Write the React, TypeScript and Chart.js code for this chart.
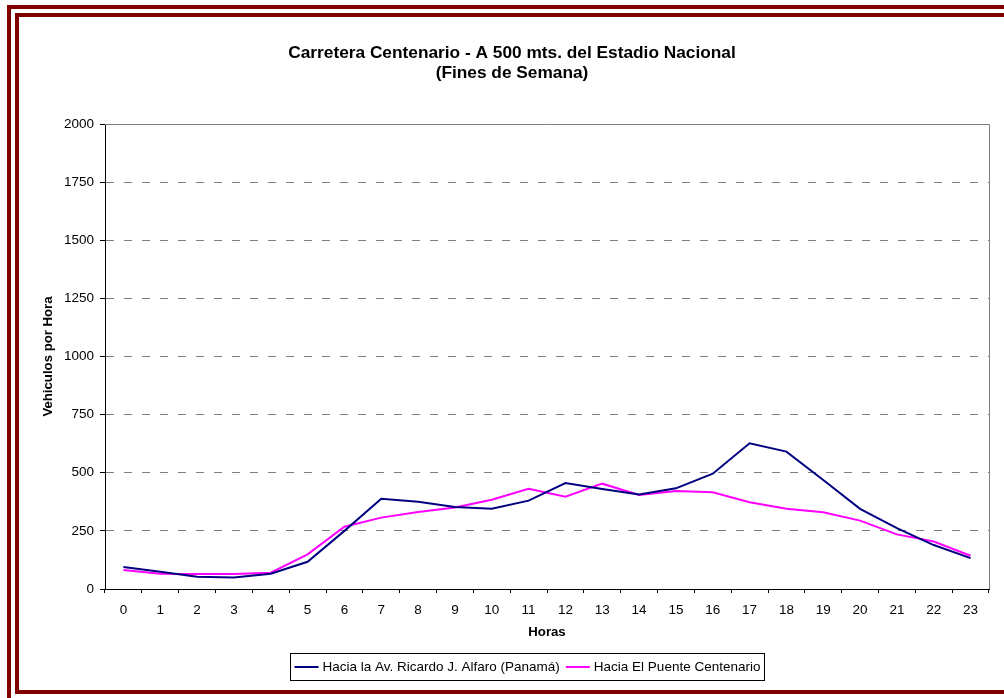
import React, { useEffect, useRef } from "react";
import { Chart, registerables } from "chart.js";

Chart.register(...registerables);

const FONT = '"Liberation Sans", Arial, Helvetica, sans-serif';

const TITLE_LINES = [
  "Carretera Centenario - A 500 mts. del Estadio Nacional",
  "(Fines de Semana)",
];
const X_TITLE = "Horas";
const Y_TITLE = "Vehiculos por Hora";

const hours = [
  "0", "1", "2", "3", "4", "5", "6", "7", "8", "9", "10", "11",
  "12", "13", "14", "15", "16", "17", "18", "19", "20", "21", "22", "23",
];

const seriesNames = [
  "Hacia la Av. Ricardo J. Alfaro (Panamá)",
  "Hacia El Puente Centenario",
];

const haciaAlfaro = [
  95, 74, 53, 50, 66, 117, 250, 388, 375, 353, 345, 380,
  456, 430, 406, 433, 496, 627, 591, 469, 345, 262, 189, 133,
];
const haciaPuente = [
  82, 66, 64, 64, 70, 149, 268, 307, 331, 351, 384, 431,
  397, 453, 404, 421, 416, 373, 345, 330, 294, 235, 204, 143,
];

const yMin = 0;
const yMax = 2000;
const yStep = 250;

const W = 1004;
const H = 698;

const TICK_SIZE = 13.5;
const AXIS_TITLE_SIZE = 13.2;
const HEADING_SIZE = 17.3;

// Two-line bold heading above the plot
const headingPlugin = {
  id: "heading",
  afterDraw(chart: any) {
    const ctx = chart.ctx;
    ctx.save();
    ctx.font = `bold ${HEADING_SIZE}px ${FONT}`;
    ctx.fillStyle = "#000";
    ctx.textAlign = "center";
    ctx.textBaseline = "alphabetic";
    TITLE_LINES.forEach((line, i) => ctx.fillText(line, 512, 57.5 + i * 20.7));
    ctx.restore();
  },
};

// Grey frame on the top and right sides of the plot area
const framePlugin = {
  id: "frame",
  beforeDatasetsDraw(chart: any) {
    const { ctx, chartArea } = chart;
    const { left, right, top, bottom } = chartArea;
    ctx.save();
    ctx.strokeStyle = "#808080";
    ctx.lineWidth = 1;
    ctx.setLineDash([]);
    ctx.beginPath();
    ctx.moveTo(left, Math.round(top) + 0.5);
    ctx.lineTo(Math.round(right) + 0.5, Math.round(top) + 0.5);
    ctx.lineTo(Math.round(right) + 0.5, bottom);
    ctx.stroke();
    ctx.restore();
  },
};

// Boxed legend below the axis title
const boxedLegendPlugin = {
  id: "boxedLegend",
  afterDraw(chart: any) {
    const ctx = chart.ctx;
    const sets = chart.data.datasets;
    const pad = 4;
    const sample = 24;
    const gap = 4;
    const between = 6;
    ctx.save();
    ctx.font = `${TICK_SIZE}px ${FONT}`;
    const widths = sets.map((d: any) => ctx.measureText(d.label).width);
    let total = pad * 2;
    widths.forEach((w: number, i: number) => {
      total += sample + gap + w + (i < widths.length - 1 ? between : 0);
    });
    const cx = 527;
    const top = 653.5;
    const h = 27;
    const left = Math.round(cx - total / 2) + 0.5;
    ctx.strokeStyle = "#000";
    ctx.lineWidth = 1;
    ctx.strokeRect(left, top, Math.round(total), h);
    const midY = top + h / 2;
    let x = left + pad;
    sets.forEach((d: any, i: number) => {
      ctx.strokeStyle = d.borderColor;
      ctx.lineWidth = 2;
      ctx.beginPath();
      ctx.moveTo(x, midY);
      ctx.lineTo(x + sample, midY);
      ctx.stroke();
      x += sample + gap;
      ctx.fillStyle = "#000";
      ctx.textAlign = "left";
      ctx.textBaseline = "middle";
      ctx.fillText(d.label, x, midY);
      x += widths[i] + between;
    });
    ctx.restore();
  },
};

export default function App() {
  const canvasRef = useRef<HTMLCanvasElement | null>(null);

  useEffect(() => {
    const canvas = canvasRef.current;
    if (!canvas) return;
    const chart = new Chart(canvas, {
      type: "line",
      data: {
        labels: hours,
        datasets: [
          {
            label: seriesNames[0],
            data: haciaAlfaro,
            borderColor: "#000080",
            backgroundColor: "#000080",
            borderWidth: 2,
            pointRadius: 0,
            tension: 0,
            fill: false,
          },
          {
            label: seriesNames[1],
            data: haciaPuente,
            borderColor: "#FF00FF",
            backgroundColor: "#FF00FF",
            borderWidth: 2,
            pointRadius: 0,
            tension: 0,
            fill: false,
          },
        ],
      },
      options: {
        responsive: false,
        animation: false,
        devicePixelRatio: 1,
        layout: { padding: { left: 0, top: 124, right: 15, bottom: 0 } },
        plugins: {
          legend: { display: false },
          title: { display: false },
          tooltip: { enabled: false },
        },
        scales: {
          x: {
            type: "category",
            offset: true,
            afterFit(scale: any) {
              scale.height = 109;
            },
            grid: {
              display: true,
              offset: true,
              drawOnChartArea: false,
              drawTicks: true,
              tickLength: 4,
              tickColor: "#000",
              tickWidth: 1,
              color: "#000",
            },
            border: { display: true, color: "#000", width: 1 },
            ticks: {
              color: "#000",
              font: { family: FONT, size: TICK_SIZE },
              padding: 9,
              maxRotation: 0,
              autoSkip: false,
            },
            title: {
              display: true,
              text: X_TITLE,
              color: "#000",
              font: { family: FONT, size: AXIS_TITLE_SIZE, weight: "bold" },
              padding: { top: 0, bottom: 58 },
            },
          },
          y: {
            min: yMin,
            max: yMax,
            afterFit(scale: any) {
              scale.width = 105;
            },
            grid: {
              color: "#808080",
              lineWidth: 1,
              drawTicks: true,
              tickLength: 5,
              tickColor: "#000",
              tickWidth: 1,
              tickBorderDash: [],
            },
            border: { display: true, color: "#000", width: 1, dash: [8, 10] },
            ticks: {
              stepSize: yStep,
              color: "#000",
              font: { family: FONT, size: TICK_SIZE },
              padding: 6,
              callback: (v: any) => String(v),
            },
            title: {
              display: true,
              text: Y_TITLE,
              color: "#000",
              font: { family: FONT, size: AXIS_TITLE_SIZE, weight: "bold" },
              padding: { top: 40, bottom: 0 },
            },
          },
        },
      },
      plugins: [framePlugin, headingPlugin, boxedLegendPlugin],
    } as any);
    return () => chart.destroy();
  }, []);

  const band = "#800000";

  return (
    <div
      style={{
        position: "fixed",
        left: 0,
        top: 0,
        width: W,
        height: H,
        overflow: "hidden",
        background: "#fff",
      }}
    >
      <canvas
        ref={canvasRef}
        width={W}
        height={H}
        style={{ position: "absolute", left: 0, top: 0, width: W, height: H }}
      />
      <div
        style={{
          position: "absolute",
          left: 7,
          top: 5,
          width: 1200,
          height: 900,
          boxSizing: "border-box",
          border: `4px solid ${band}`,
          pointerEvents: "none",
        }}
      />
      <div
        style={{
          position: "absolute",
          left: 15,
          top: 13,
          width: 1200,
          height: 681,
          boxSizing: "border-box",
          border: `4px solid ${band}`,
          pointerEvents: "none",
        }}
      />
    </div>
  );
}
